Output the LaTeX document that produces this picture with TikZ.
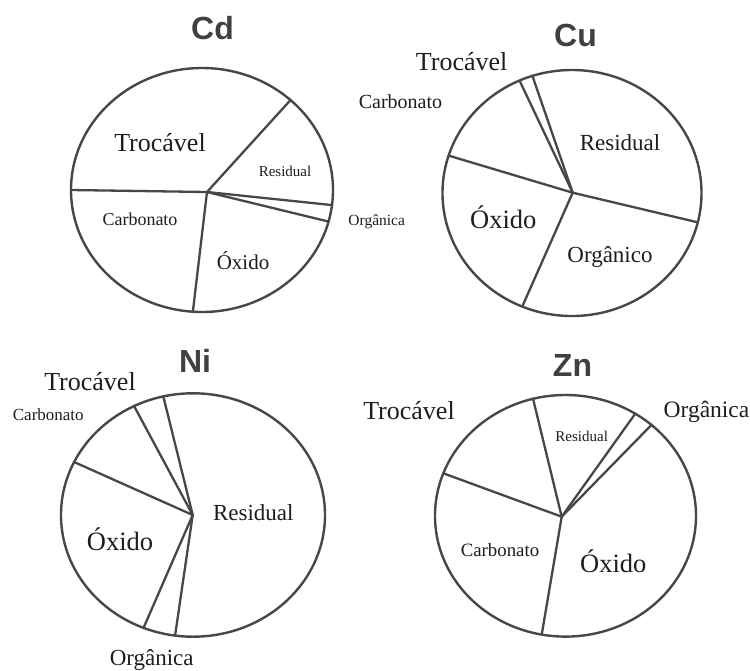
\documentclass[tikz,border=0pt]{standalone}
\usepackage{fontspec}
\usetikzlibrary{calc}
\setmainfont{Liberation Serif}
\newfontfamily\titlefont{Liberation Sans}
\definecolor{rim}{HTML}{474747}
\definecolor{ink}{HTML}{1E1E1E}
\definecolor{ttl}{HTML}{404040}
\tikzset{
  rimline/.style={draw=rim, line width=2.4pt},
  spoke/.style={draw=rim, line width=2.3pt, line cap=round},
  lbl/.style={text=ink, inner sep=0pt, anchor=base, yshift={-0.33*#1}, font=\fontsize{#1}{#1}\selectfont},
  ttlnode/.style={text=ttl, inner sep=0pt, anchor=base, yshift=-11.5, font=\titlefont\bfseries\fontsize{32}{32}\selectfont}
}
\begin{document}
\begin{tikzpicture}[x=1pt,y=-1pt]
\useasboundingbox[fill=white] (0,0) rectangle (750,670);

% ---------- Cd ----------
\coordinate (cdc) at (202,190);
\coordinate (cdh) at (207,192);
\draw[rimline] (cdc) ellipse [x radius=131, y radius=122];
\foreach \a in {180,-47.5,7.1,15,94}
  \draw[spoke] (cdh) -- ($(cdc)+(\a:131 and 122)$);
\node[ttlnode] (cdt) at (212.5,27.5) {Cd};
\node[lbl=26] (cd1) at (160,143) {Trocável};
\node[lbl=15] (cd2) at (285,171.7) {Residual};
\node[lbl=18] (cd3) at (140,220) {Carbonato};
\node[lbl=21] (cd4) at (243,263) {Óxido};
\node[lbl=15.5] (cd5) at (376.7,220.7) {Orgânica};

% ---------- Cu ----------
\coordinate (cuc) at (572,193);
\coordinate (cuh) at (572.7,192.7);
\draw[rimline] (cuc) ellipse [x radius=129.5, y radius=123];
\foreach \a in {197.7,246.1,252.2,13.8,112.6}
  \draw[spoke] (cuh) -- ($(cuc)+(\a:129.5 and 123)$);
\node[ttlnode] (cut) at (575.5,34.5) {Cu};
\node[lbl=26] (cu1) at (461.7,61.7) {Trocável};
\node[lbl=20] (cu2) at (400.5,101.7) {Carbonato};
\node[lbl=23] (cu3) at (620,143.3) {Residual};
\node[lbl=26.5] (cu4) at (503.3,220) {Óxido};
\node[lbl=23] (cu5) at (610,255) {Orgânico};

% ---------- Ni ----------
\coordinate (nic) at (193,515);
\coordinate (nih) at (192.7,515);
\draw[rimline] (nic) ellipse [x radius=132, y radius=121.7];
\foreach \a in {205.8,243.5,257,112,97.8}
  \draw[spoke] (nih) -- ($(nic)+(\a:132 and 121.7)$);
\node[ttlnode] (nit) at (195,360.5) {Ni};
\node[lbl=26] (ni1) at (90,381.7) {Trocável};
\node[lbl=17] (ni2) at (48.3,415) {Carbonato};
\node[lbl=23] (ni3) at (253.3,513.3) {Residual};
\node[lbl=26.5] (ni4) at (120,541.7) {Óxido};
\node[lbl=23] (ni5) at (151.7,658.3) {Orgânica};

% ---------- Zn ----------
\coordinate (znc) at (565.5,515.8);
\coordinate (znh) at (561.7,516.7);
\draw[rimline] (znc) ellipse [x radius=130.5, y radius=120.8];
\foreach \a in {200.6,255.6,302.3,311.2,100.5}
  \draw[spoke] (znh) -- ($(znc)+(\a:130.5 and 120.8)$);
\node[ttlnode] (znt) at (572.5,364.5) {Zn};
\node[lbl=26] (zn1) at (409,411) {Trocável};
\node[lbl=15] (zn2) at (581.7,436.7) {Residual};
\node[lbl=23.5] (zn3) at (706.5,410) {Orgânica};
\node[lbl=18.8] (zn4) at (500,550) {Carbonato};
\node[lbl=26.5] (zn5) at (613.3,563.3) {Óxido};
\end{tikzpicture}
\end{document}
